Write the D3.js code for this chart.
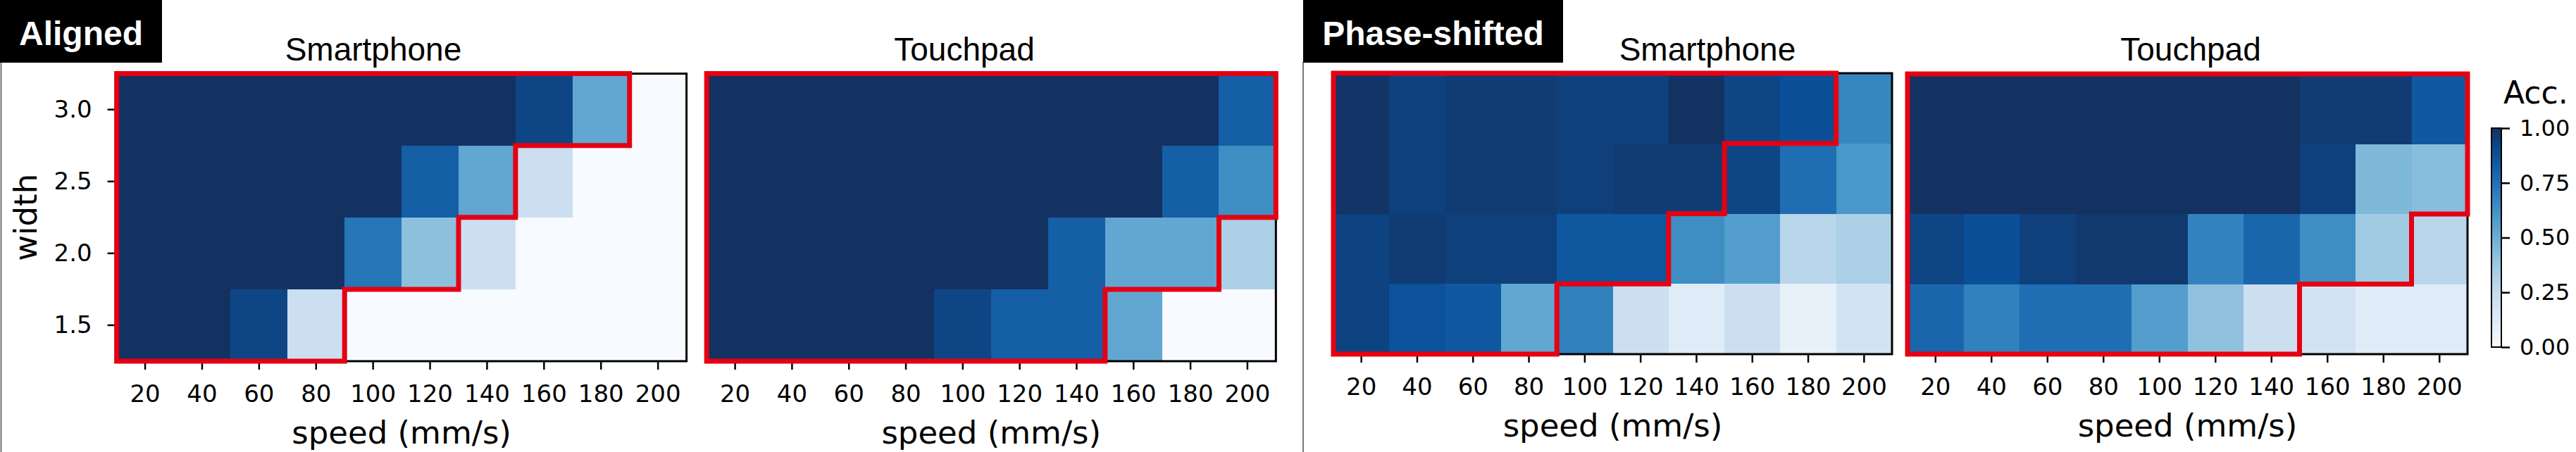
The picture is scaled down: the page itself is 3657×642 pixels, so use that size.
<!DOCTYPE html>
<html lang="en">
<head>
  <meta charset="UTF-8">
  <title>Accuracy heatmaps</title>
  <script src="https://d3js.org/d3.v7.min.js"></script>
  <style>
    body {
      margin: 0;
      background: #fff;
    }
    .tick text {
      font-family: "DejaVu Sans", sans-serif;
      fill: #000;
    }
    .tick line {
      stroke: #000;
      stroke-width: 2.5;
    }
    .title {
      font-family: "Liberation Sans", Arial, sans-serif;
      font-size: 46px;
    }
    .axlabel {
      font-family: "DejaVu Sans", sans-serif;
      font-size: 45px;
    }
    .tag {
      font-family: "Liberation Sans", Arial, sans-serif;
      font-weight: bold;
      font-size: 48px;
      fill: #fff;
    }
    rect.cell {
      shape-rendering: crispEdges;
    }
  </style>
</head>
<body>
  <svg id="chart" width="3657" height="642"></svg>

  <script>
    // speed columns and width rows (top row first)
    const speeds = [20, 40, 60, 80, 100, 120, 140, 160, 180, 200];
    const widths = ["3.0", "2.5", "2.0", "1.5"];

    // accuracy per row (width 3.0 .. 1.5), per column (speed 20 .. 200)
    const alignedPhone = [
      [1, 1, 1, 1, 1, 1, 1, 0.92, 0.53, 0],
      [1, 1, 1, 1, 1, 0.82, 0.53, 0.22, 0, 0],
      [1, 1, 1, 1, 0.73, 0.42, 0.22, 0, 0, 0],
      [1, 1, 0.92, 0.22, 0, 0, 0, 0, 0, 0]
    ];
    const alignedPad = [
      [1, 1, 1, 1, 1, 1, 1, 1, 1, 0.82],
      [1, 1, 1, 1, 1, 1, 1, 1, 0.82, 0.64],
      [1, 1, 1, 1, 1, 1, 0.82, 0.53, 0.53, 0.33],
      [1, 1, 1, 1, 0.92, 0.82, 0.82, 0.53, 0, 0]
    ];
    const shiftedPhone = [
      [0.99, 0.94, 0.96, 0.96, 0.94, 0.94, 1, 0.92, 0.88, 0.67],
      [0.99, 0.94, 0.96, 0.96, 0.94, 0.96, 0.96, 0.92, 0.76, 0.6],
      [0.93, 0.96, 0.94, 0.94, 0.85, 0.85, 0.64, 0.57, 0.29, 0.33],
      [0.93, 0.87, 0.84, 0.53, 0.69, 0.22, 0.12, 0.22, 0.08, 0.19]
    ];
    const shiftedPad = [
      [1, 1, 1, 1, 1, 1, 1, 0.96, 0.96, 0.84],
      [1, 1, 1, 1, 1, 1, 1, 0.94, 0.45, 0.43],
      [0.92, 0.88, 0.94, 0.97, 0.97, 0.68, 0.79, 0.64, 0.37, 0.29],
      [0.79, 0.69, 0.76, 0.76, 0.57, 0.41, 0.22, 0.19, 0.12, 0.12]
    ];

    // how many columns per row fall inside the red outline
    const phoneOutline = [9, 7, 6, 4];
    const padOutline = [10, 10, 9, 7];

    const colorTicks = [0, 0.25, 0.5, 0.75, 1];

    // "Blues", top end a bit greyer as in the printed figure
    const blues = d3.scaleLinear()
      .domain([0, 0.125, 0.25, 0.375, 0.5, 0.625, 0.75, 0.875, 1])
      .range(["#f7fbff", "#deebf7", "#c6dbef", "#9ecae1", "#6baed6",
              "#4292c6", "#2171b5", "#0a509a", "#143261"])
      .clamp(true);

    const svg = d3.select("#chart");

    // frame lines and group tags
    svg.append("line").attr("x1", 1.5).attr("x2", 1.5).attr("y1", 88).attr("y2", 642)
      .attr("stroke", "#777").attr("stroke-width", 2);
    svg.append("line").attr("x1", 1850).attr("x2", 1850).attr("y1", 88).attr("y2", 642)
      .attr("stroke", "#777").attr("stroke-width", 2);

    function tag(x, w, label) {
      svg.append("rect").attr("x", x).attr("y", 0).attr("width", w).attr("height", 89)
        .attr("fill", "#000");
      svg.append("text").attr("class", "tag")
        .attr("x", x + w / 2).attr("y", 64)
        .attr("text-anchor", "middle").text(label);
    }
    tag(0, 230, "Aligned");
    tag(1850, 369, "Phase-shifted");

    function panel(opt) {
      const x = d3.scaleBand().domain(speeds).range([opt.x0, opt.x1]);
      const y = d3.scaleBand().domain(widths).range([opt.y0, opt.y1]);
      const g = svg.append("g");

      const cells = [];
      opt.data.forEach((row, i) => row.forEach((v, j) => {
        cells.push({ w: widths[i], s: speeds[j], v: v });
      }));

      g.selectAll("rect.cell")
        .data(cells)
        .enter()
        .append("rect")
        .attr("class", "cell")
        .attr("x", d => x(d.s))
        .attr("y", d => y(d.w))
        .attr("width", d => d.s === 200 ? x.bandwidth() : x.bandwidth() + 1)
        .attr("height", d => d.w === "1.5" ? y.bandwidth() : y.bandwidth() + 1)
        .attr("fill", d => blues(d.v));

      // spines
      g.append("rect")
        .attr("x", opt.x0).attr("y", opt.y0)
        .attr("width", opt.x1 - opt.x0).attr("height", opt.y1 - opt.y0)
        .attr("fill", "none").attr("stroke", "#000").attr("stroke-width", 3);

      // x axis
      const xa = g.append("g")
        .attr("transform", `translate(0,${opt.y1})`)
        .call(d3.axisBottom(x).tickSize(12).tickPadding(22));
      xa.select(".domain").remove();
      xa.selectAll("text").style("font-size", "34px");

      if (opt.yAxis) {
        const ya = g.append("g")
          .attr("transform", `translate(${opt.x0},0)`)
          .call(d3.axisLeft(y).tickSize(13).tickPadding(22));
        ya.select(".domain").remove();
        ya.selectAll("text").style("font-size", "34px");

        g.append("text").attr("class", "axlabel")
          .attr("transform", `translate(52,${(opt.y0 + opt.y1) / 2}) rotate(-90)`)
          .attr("text-anchor", "middle")
          .text("width");
      }

      g.append("text").attr("class", "axlabel")
        .attr("x", (opt.x0 + opt.x1) / 2).attr("y", opt.y1 + 117)
        .attr("text-anchor", "middle")
        .text("speed (mm/s)");

      g.append("text").attr("class", "title")
        .attr("x", opt.titleX).attr("y", 86)
        .attr("text-anchor", "middle")
        .text(opt.title);

      // red outline, stepping down row by row
      const bw = x.bandwidth();
      const pts = [[opt.x0, opt.y0]];
      opt.outline.forEach((n, i) => {
        const xr = opt.x0 + n * bw;
        pts.push([xr, y(widths[i])]);
        pts.push([xr, y(widths[i]) + y.bandwidth()]);
      });
      pts.push([opt.x0, opt.y1]);
      g.append("path")
        .attr("d", d3.line()(pts) + "Z")
        .attr("fill", "none")
        .attr("stroke", "#e50012")
        .attr("stroke-width", 7)
        .attr("stroke-linejoin", "miter");
    }

    panel({ data: alignedPhone, outline: phoneOutline, title: "Smartphone", titleX: 530,
            x0: 165.6, x1: 974.6, y0: 104.6, y1: 513, yAxis: true });
    panel({ data: alignedPad, outline: padOutline, title: "Touchpad", titleX: 1369,
            x0: 1003.2, x1: 1811.3, y0: 104.6, y1: 513 });
    panel({ data: shiftedPhone, outline: phoneOutline, title: "Smartphone", titleX: 2424,
            x0: 1893, x1: 2686, y0: 104, y1: 503 });
    panel({ data: shiftedPad, outline: padOutline, title: "Touchpad", titleX: 3110,
            x0: 2708, x1: 3503, y0: 105, y1: 503 });

    // colorbar
    const cb = { x: 3537, w: 14, y0: 182, y1: 493 };
    const grad = svg.append("defs").append("linearGradient")
      .attr("id", "cbGrad").attr("x1", 0).attr("y1", 1).attr("x2", 0).attr("y2", 0);
    d3.range(0, 1.0001, 0.05).forEach(t => {
      grad.append("stop").attr("offset", t).attr("stop-color", blues(t));
    });
    svg.append("rect")
      .attr("x", cb.x).attr("y", cb.y0).attr("width", cb.w).attr("height", cb.y1 - cb.y0)
      .attr("fill", "url(#cbGrad)").attr("stroke", "#000").attr("stroke-width", 2);

    const cScale = d3.scaleLinear().domain([0, 1]).range([cb.y1, cb.y0]);
    const ca = svg.append("g")
      .attr("transform", `translate(${cb.x + cb.w},0)`)
      .call(d3.axisRight(cScale).tickValues(colorTicks).tickFormat(d3.format(".2f"))
        .tickSize(12).tickPadding(14));
    ca.select(".domain").remove();
    ca.selectAll("text").style("font-size", "32px");

    svg.append("text").attr("class", "axlabel")
      .attr("x", 3554).attr("y", 147)
      .style("font-size", "44px")
      .text("Acc.");
  </script>
</body>
</html>
